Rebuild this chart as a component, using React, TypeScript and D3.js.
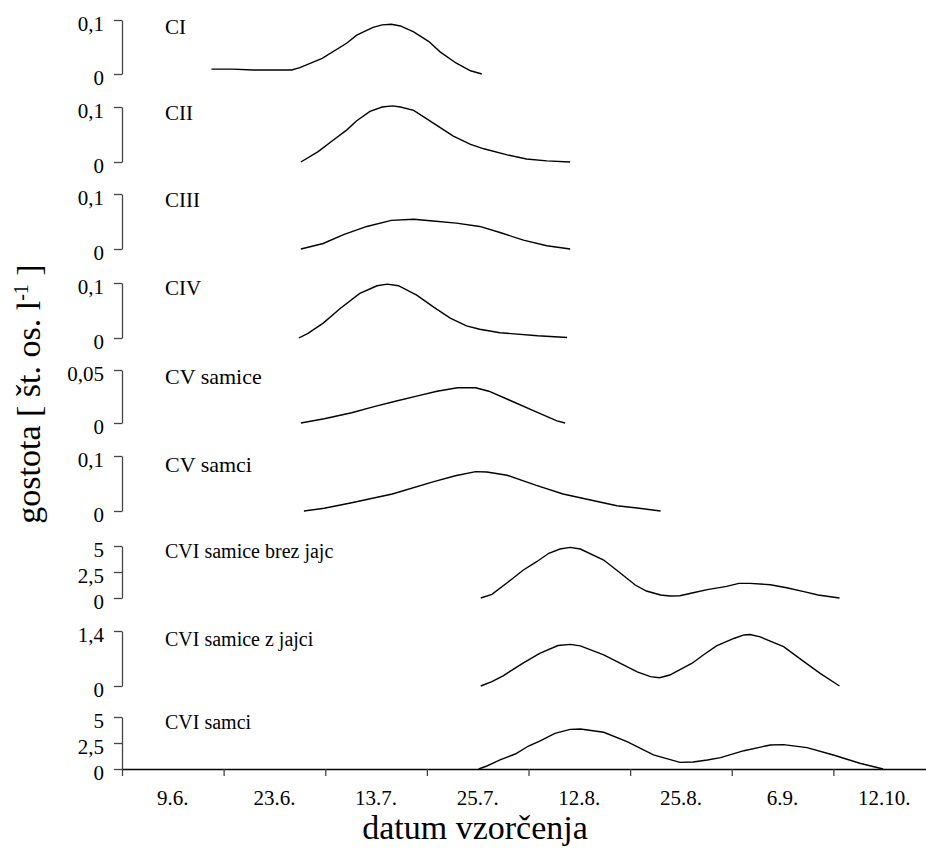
import React, { useRef, useEffect } from 'react';
import * as d3 from 'd3';

// sampling dates on the shared x axis
const categories = ['9.6.', '23.6.', '13.7.', '25.7.', '12.8.', '25.8.', '6.9.', '12.10.'];

// x positions are in category units (0 = left edge of "9.6.", 8 = right edge of "12.10.")
const ciX = [0.88, 1.09, 1.29, 1.67, 1.75, 1.97, 2.21, 2.31, 2.47, 2.56, 2.65, 2.74, 2.87, 3.02, 3.13, 3.29, 3.43, 3.54];
const ciY = [0.009, 0.009, 0.0075, 0.0075, 0.0117, 0.029, 0.057, 0.072, 0.0865, 0.091, 0.092, 0.089, 0.078, 0.06, 0.041, 0.02, 0.006, 0];

const ciiX = [1.76, 1.93, 2.08, 2.21, 2.31, 2.44, 2.56, 2.66, 2.74, 2.87, 3.06, 3.26, 3.43, 3.56, 3.79, 3.98, 4.18, 4.41];
const ciiY = [0, 0.019, 0.04, 0.058, 0.075, 0.092, 0.1, 0.102, 0.1, 0.094, 0.071, 0.047, 0.032, 0.024, 0.013, 0.0055, 0.002, 0];

const ciiiX = [1.76, 1.98, 2.18, 2.41, 2.65, 2.87, 3.06, 3.29, 3.52, 3.72, 3.95, 4.18, 4.41];
const ciiiY = [0, 0.01, 0.026, 0.041, 0.052, 0.054, 0.051, 0.047, 0.041, 0.03, 0.016, 0.006, 0];

const civX = [1.74, 1.83, 1.98, 2.15, 2.34, 2.51, 2.61, 2.72, 2.9, 3.06, 3.23, 3.39, 3.52, 3.72, 4.09, 4.38];
const civY = [0, 0.0085, 0.027, 0.054, 0.081, 0.095, 0.098, 0.095, 0.078, 0.057, 0.036, 0.022, 0.016, 0.0096, 0.004, 0.001];

const cvFemX = [1.76, 1.99, 2.26, 2.48, 2.7, 2.92, 3.1, 3.3, 3.48, 3.61, 3.81, 4.07, 4.28, 4.36];
const cvFemY = [0, 0.004, 0.0097, 0.0154, 0.0208, 0.0258, 0.03, 0.0333, 0.0333, 0.03, 0.0217, 0.0107, 0.002, 0];

const cvMaleX = [1.79, 1.99, 2.26, 2.66, 3.06, 3.28, 3.48, 3.59, 3.79, 4.07, 4.34, 4.61, 4.87, 5.09, 5.3];
const cvMaleY = [0, 0.005, 0.015, 0.031, 0.053, 0.064, 0.0715, 0.071, 0.065, 0.047, 0.031, 0.02, 0.0096, 0.005, 0];

const cviFemX = [3.53, 3.64, 3.79, 3.95, 4.08, 4.2, 4.31, 4.41, 4.51, 4.74, 4.9, 5.05, 5.16, 5.3, 5.39, 5.49, 5.62, 5.76, 5.95, 6.07, 6.18, 6.38, 6.54, 6.71, 6.85, 7.06];
const cviFemY = [0, 0.35, 1.47, 2.69, 3.49, 4.3, 4.71, 4.87, 4.71, 3.65, 2.43, 1.25, 0.67, 0.29, 0.19, 0.22, 0.51, 0.8, 1.12, 1.41, 1.41, 1.28, 0.99, 0.61, 0.29, 0];

const cviEggX = [3.53, 3.64, 3.75, 3.95, 4.11, 4.29, 4.41, 4.51, 4.74, 4.9, 5.07, 5.2, 5.29, 5.39, 5.61, 5.72, 5.85, 6.02, 6.12, 6.18, 6.28, 6.51, 6.71, 6.87, 7.06];
const cviEggY = [0, 0.11, 0.26, 0.59, 0.83, 1.03, 1.06, 1.02, 0.79, 0.58, 0.36, 0.24, 0.21, 0.28, 0.58, 0.79, 1.02, 1.21, 1.3, 1.31, 1.25, 1.0, 0.62, 0.32, 0];

const cviMaleX = [3.51, 3.59, 3.72, 3.87, 4.0, 4.11, 4.26, 4.41, 4.51, 4.74, 4.97, 5.23, 5.49, 5.62, 5.76, 5.89, 6.12, 6.38, 6.51, 6.74, 7.0, 7.26, 7.49];
const cviMaleY = [0, 0.29, 0.87, 1.44, 2.21, 2.69, 3.43, 3.81, 3.85, 3.53, 2.63, 1.35, 0.64, 0.67, 0.87, 1.09, 1.76, 2.31, 2.34, 2.05, 1.35, 0.55, 0];

const ticksSmall = [0, 0.1];
const ticksCvFem = [0, 0.05];
const ticksBig = [0, 2.5, 5];
const ticksEgg = [0, 1.4];

// panel rows: top/bottom are pixel rows of each stacked plot
const panels = [
  { name: 'CI', xs: ciX, ys: ciY, ticks: ticksSmall, top: 20, bottom: 74, ly: 27, fs: 21 },
  { name: 'CII', xs: ciiX, ys: ciiY, ticks: ticksSmall, top: 107, bottom: 162, ly: 113, fs: 21 },
  { name: 'CIII', xs: ciiiX, ys: ciiiY, ticks: ticksSmall, top: 194, bottom: 249, ly: 200, fs: 21 },
  { name: 'CIV', xs: civX, ys: civY, ticks: ticksSmall, top: 283, bottom: 338, ly: 288, fs: 21 },
  { name: 'CV samice', xs: cvFemX, ys: cvFemY, ticks: ticksCvFem, top: 370, bottom: 423, ly: 377, fs: 22 },
  { name: 'CV samci', xs: cvMaleX, ys: cvMaleY, ticks: ticksSmall, top: 456, bottom: 511, ly: 465, fs: 22 },
  { name: 'CVI samice brez jajc', xs: cviFemX, ys: cviFemY, ticks: ticksBig, top: 546, bottom: 598, ly: 551, fs: 20 },
  { name: 'CVI samice z jajci', xs: cviEggX, ys: cviEggY, ticks: ticksEgg, top: 631, bottom: 686, ly: 639, fs: 20 },
  { name: 'CVI samci', xs: cviMaleX, ys: cviMaleY, ticks: ticksBig, top: 717, bottom: 769, ly: 722, fs: 20 },
];

const fmt = (v: number) => String(v).replace('.', ',');
const serif = "'Liberation Serif', 'Times New Roman', serif";

const App = () => {
  const svgRef = useRef<SVGSVGElement>(null);
  const width = 926;
  const height = 857;
  const left = 122;
  const right = 935;

  useEffect(() => {
    const svg = d3.select(svgRef.current);
    svg.selectAll('*').remove();

    const x = d3.scaleLinear().domain([0, categories.length]).range([left, right]);
    const band = d3.scaleBand().domain(categories).range([left, right]);

    panels.forEach((p) => {
      const y = d3.scaleLinear().domain([0, d3.max(p.ticks) as number]).range([p.bottom, p.top]);

      const yAxis = d3.axisLeft(y)
        .tickValues(p.ticks)
        .tickSizeInner(8)
        .tickSizeOuter(0)
        .tickPadding(10)
        .tickFormat((d) => fmt(d as number));

      const ag = svg.append('g')
        .attr('transform', `translate(${left},0)`)
        .call(yAxis);
      ag.select('.domain').attr('stroke', '#444').attr('stroke-width', 1.3);
      ag.selectAll('.tick line').attr('stroke', '#444').attr('stroke-width', 1.3);
      ag.selectAll('.tick text')
        .attr('dy', '0.5em')
        .attr('fill', '#000')
        .style('font-family', serif)
        .style('font-size', '21px');

      const myLine = d3.line<number>()
        .x((d, i) => x(p.xs[i]))
        .y((d) => y(d));

      svg.append('path')
        .datum(p.ys)
        .attr('d', myLine)
        .attr('fill', 'none')
        .attr('stroke', '#000')
        .attr('stroke-width', 1.4);

      svg.append('text')
        .attr('x', 165)
        .attr('y', p.ly + 7)
        .attr('fill', '#000')
        .style('font-family', serif)
        .style('font-size', `${p.fs}px`)
        .text(p.name);
    });

    // shared category axis at the bottom panel
    const last = panels[panels.length - 1];
    const xAxis = d3.axisBottom(x)
      .tickValues(d3.range(0, categories.length + 1))
      .tickSizeInner(7)
      .tickSizeOuter(0)
      .tickFormat(() => '');
    const xg = svg.append('g')
      .attr('transform', `translate(0,${last.bottom})`)
      .call(xAxis);
    xg.select('.domain').attr('stroke', '#000').attr('stroke-width', 1.3);
    xg.selectAll('.tick line').attr('stroke', '#444').attr('stroke-width', 1.3);

    svg.selectAll('.cat')
      .data(categories)
      .join('text')
      .attr('class', 'cat')
      .attr('x', (d) => (band(d) as number) + band.bandwidth() / 2)
      .attr('y', 805)
      .attr('text-anchor', 'middle')
      .attr('fill', '#000')
      .style('font-family', serif)
      .style('font-size', '21px')
      .text((d) => d);

    svg.append('text')
      .attr('x', 475)
      .attr('y', 839)
      .attr('text-anchor', 'middle')
      .attr('fill', '#000')
      .style('font-family', serif)
      .style('font-size', '34px')
      .text('datum vzorčenja');

    const yt = svg.append('text')
      .attr('transform', 'translate(40,394) rotate(-90)')
      .attr('text-anchor', 'middle')
      .attr('fill', '#000')
      .style('font-family', serif)
      .style('font-size', '34px');
    yt.append('tspan').text('gostota [ št. os. l');
    yt.append('tspan').attr('dy', -12).style('font-size', '20px').text('-1');
    yt.append('tspan').attr('dy', 12).text(' ]');
  }, []);

  return (
    <svg
      ref={svgRef}
      width={width}
      height={height}
      style={{ position: 'absolute', left: 0, top: 0, background: '#fff' }}
    />
  );
};

export default App;
